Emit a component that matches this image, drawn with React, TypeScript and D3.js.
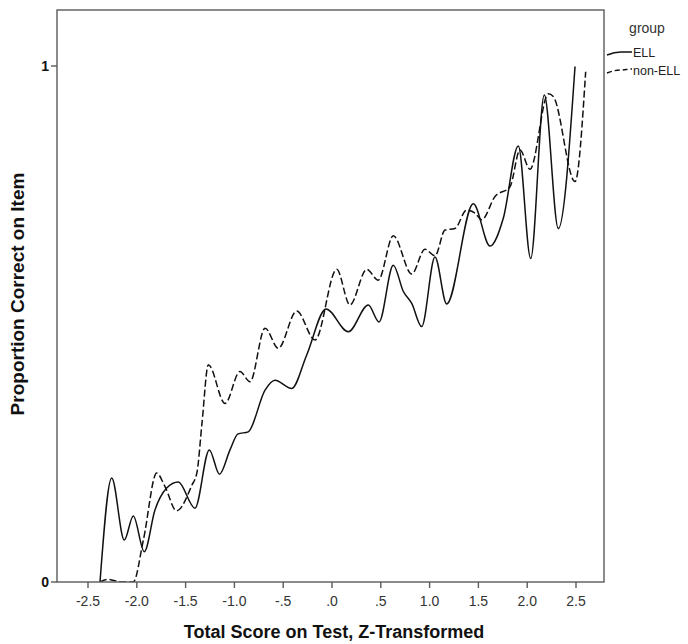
import React from "react";
import * as d3 from "d3";

// ---- data ----
const ellX = [-2.377, -2.257, -2.128, -2.036, -1.923, -1.814, -1.694, -1.575, -1.404, -1.257, -1.153, -1.045, -0.963, -0.858, -0.686, -0.584, -0.413, -0.259, -0.061, 0.167, 0.372, 0.482, 0.628, 0.731, 0.817, 0.919, 1.055, 1.175, 1.448, 1.619, 1.755, 1.909, 2.036, 2.175, 2.319, 2.49];
const ellY = [0, 0.2016, 0.0814, 0.128, 0.0587, 0.1395, 0.182, 0.194, 0.143, 0.256, 0.209, 0.256, 0.287, 0.291, 0.372, 0.391, 0.375, 0.44, 0.529, 0.485, 0.537, 0.504, 0.614, 0.563, 0.54, 0.495, 0.63, 0.539, 0.733, 0.651, 0.705, 0.845, 0.627, 0.944, 0.685, 0.999];

const nonEllX = [-2.377, -2.295, -2.155, -2.036, -1.933, -1.796, -1.711, -1.593, -1.437, -1.383, -1.332, -1.267, -1.096, -0.943, -0.84, -0.686, -0.55, -0.362, -0.174, 0.048, 0.184, 0.356, 0.474, 0.628, 0.817, 0.953, 1.055, 1.158, 1.26, 1.38, 1.465, 1.534, 1.67, 1.824, 1.926, 2.029, 2.216, 2.267, 2.49, 2.599];
const nonEllY = [0, 0.005, 0, 0, 0.081, 0.211, 0.185, 0.138, 0.187, 0.213, 0.308, 0.421, 0.346, 0.408, 0.388, 0.492, 0.453, 0.525, 0.469, 0.606, 0.537, 0.606, 0.585, 0.671, 0.597, 0.645, 0.632, 0.682, 0.685, 0.721, 0.715, 0.702, 0.747, 0.766, 0.837, 0.8, 0.946, 0.941, 0.776, 0.989];

const xTicks = [-2.5, -2, -1.5, -1, -0.5, 0, 0.5, 1, 1.5, 2, 2.5];
const xTickLabels = ["-2.5", "-2.0", "-1.5", "-1.0", "-.5", ".0", ".5", "1.0", "1.5", "2.0", "2.5"];
const yTicks = [0, 1];
const yTickLabels = ["0", "1"];
const seriesNames = ["ELL", "non-ELL"];
const legendTitle = "group";
const xTitle = "Total Score on Test, Z-Transformed";
const yTitle = "Proportion Correct on Item";

// ---- layout ----
const W = 688, H = 644;
const L = 57, R = 604, T = 10, B = 582;

export default function App() {
  const x = d3.scaleLinear().domain([-2.5, 2.5]).range([88, 576]);
  const y = d3.scaleLinear().domain([0, 1]).range([B, 66]);
  const line = d3
    .line<[number, number]>()
    .x((d) => x(d[0]))
    .y((d) => y(d[1]))
    .curve(d3.curveMonotoneX);
  const ell = ellX.map((v, i) => [v, ellY[i]] as [number, number]);
  const non = nonEllX.map((v, i) => [v, nonEllY[i]] as [number, number]);
  const font = "'Liberation Sans', Arial, sans-serif";
  const frame = "#5a5a5a";

  return (
    <svg width={W} height={H} style={{ position: "absolute", left: 0, top: 0, background: "#fff" }} fontFamily={font}>
      <rect x={0} y={0} width={W} height={H} fill="#fff" />
      <clipPath id="plot">
        <rect x={L} y={T} width={R - L} height={B - T} />
      </clipPath>
      <g clipPath="url(#plot)" fill="none" stroke="#111" strokeWidth={1.5}>
        <path d={line(ell) || ""} />
        <path d={line(non) || ""} strokeDasharray="7,3" />
      </g>
      <rect x={L} y={T} width={R - L} height={B - T} fill="none" stroke={frame} strokeWidth={1.4} />
      {xTicks.map((t, i) => (
        <g key={"x" + i}>
          <line x1={x(t)} x2={x(t)} y1={B} y2={B + 6} stroke={frame} strokeWidth={1.4} />
          <text x={x(t)} y={B + 24} textAnchor="middle" fontSize={14} fill="#333">
            {xTickLabels[i]}
          </text>
        </g>
      ))}
      {yTicks.map((t, i) => (
        <g key={"y" + i}>
          <line x1={L - 6} x2={L} y1={y(t)} y2={y(t)} stroke={frame} strokeWidth={1.4} />
          <text x={L - 8} y={y(t) + 5} textAnchor="end" fontSize={14} fontWeight="bold" fill="#111">
            {yTickLabels[i]}
          </text>
        </g>
      ))}
      <text x={334} y={638} textAnchor="middle" fontSize={18} fontWeight="bold" fill="#111">
        {xTitle}
      </text>
      <text transform={`translate(24,${294}) rotate(-90)`} textAnchor="middle" fontSize={19} fontWeight="bold" fill="#111">
        {yTitle}
      </text>
      {/* legend */}
      <text x={647} y={33} textAnchor="middle" fontSize={14} fill="#333">
        {legendTitle}
      </text>
      <path d="M607,55 C612,53 617,52 621,52 C625,52 628,52 632,52" fill="none" stroke="#111" strokeWidth={1.4} />
      <text x={633} y={57} fontSize={12.5} fill="#222">
        {seriesNames[0]}
      </text>
      <path d="M607,73 C612,71 617,70 621,70 C625,70 628,69 632,69" fill="none" stroke="#111" strokeWidth={1.4} strokeDasharray="5,3" />
      <text x={633} y={75} fontSize={12.5} fill="#222">
        {seriesNames[1]}
      </text>
    </svg>
  );
}
